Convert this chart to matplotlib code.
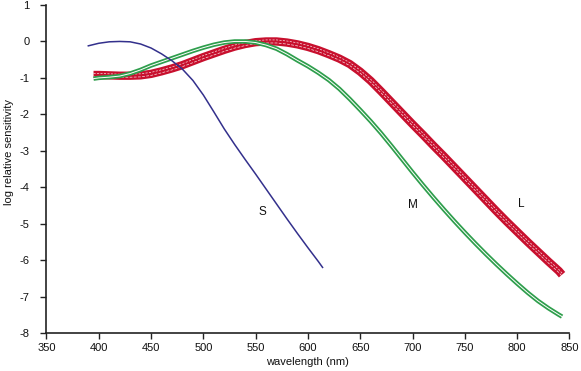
import matplotlib
matplotlib.use("Agg")
import matplotlib.pyplot as plt
from matplotlib.transforms import offset_copy

plt.rcParams['font.family'] = ['Liberation Sans', 'DejaVu Sans']

# S cone
s_wl = [390, 400, 410, 420, 430, 440, 450, 460, 470, 480, 490, 500, 510, 520,
        530, 540, 550, 560, 570, 580, 590, 600, 610, 614]
s_val = [-0.12, -0.05, -0.01, 0.0, -0.01, -0.07, -0.18, -0.34, -0.53, -0.76,
         -1.07, -1.47, -1.93, -2.40, -2.83, -3.24, -3.64, -4.05, -4.46, -4.87,
         -5.27, -5.66, -6.04, -6.20]

# M cone
m_wl = [395, 400, 410, 420, 430, 440, 450, 460, 470, 480, 490, 500, 510, 520,
        530, 540, 550, 560, 570, 580, 590, 600, 610, 620, 630, 640, 650, 660,
        670, 680, 690, 700, 710, 720, 730, 740, 750, 760, 770, 780, 790, 800,
        810, 820, 830, 840, 843]
m_val = [-1.02, -1.00, -0.98, -0.95, -0.88, -0.78, -0.66, -0.56, -0.46, -0.36,
         -0.26, -0.17, -0.09, -0.03, 0.0, 0.0, -0.03, -0.10, -0.20, -0.35,
         -0.52, -0.68, -0.86, -1.06, -1.30, -1.58, -1.88, -2.19, -2.52, -2.87,
         -3.23, -3.59, -3.94, -4.28, -4.61, -4.93, -5.24, -5.54, -5.83, -6.11,
         -6.38, -6.64, -6.89, -7.12, -7.32, -7.50, -7.55]

# L cone
l_wl = [395, 400, 410, 420, 430, 440, 450, 460, 470, 480, 490, 500, 510, 520,
        530, 540, 550, 560, 570, 580, 590, 600, 610, 620, 630, 640, 650, 660,
        670, 680, 690, 700, 710, 720, 730, 740, 750, 760, 770, 780, 790, 800,
        810, 820, 830, 840, 843]
l_val = [-0.92, -0.92, -0.93, -0.94, -0.94, -0.93, -0.89, -0.82, -0.74, -0.65,
         -0.54, -0.43, -0.33, -0.23, -0.14, -0.07, -0.02, 0.0, 0.0, -0.03,
         -0.08, -0.15, -0.24, -0.35, -0.47, -0.62, -0.83, -1.08, -1.37, -1.67,
         -1.97, -2.27, -2.56, -2.86, -3.15, -3.45, -3.75, -4.05, -4.35, -4.65,
         -4.94, -5.22, -5.50, -5.77, -6.04, -6.30, -6.40]

x_ticks = [350, 400, 450, 500, 550, 600, 650, 700, 750, 800, 850]
y_ticks = [1, 0, -1, -2, -3, -4, -5, -6, -7, -8]

labels = ["S", "M", "L"]
label_pos = [(556, -4.68), (700, -4.49), (804, -4.45)]

S_COL = "#33308c"
M_COL = "#2e9e4c"
L_COL = "#c8102e"

fig = plt.figure(figsize=(5.81, 3.71), dpi=100)
ax = fig.add_axes([0.080, 0.1024, 0.900, 0.8841])

ax.plot(l_wl, l_val, color=L_COL, lw=6.0, solid_capstyle='butt', zorder=2)
for dy, dash in [(1.1, (0, (3, 2))), (-1.1, (2, (4, 2)))]:
    tr = offset_copy(ax.transData, fig=fig, x=0, y=dy, units='points')
    ax.plot(l_wl, l_val, color="white", lw=0.5, ls=dash, transform=tr,
            alpha=0.85, zorder=3)
ax.plot(m_wl, m_val, color=M_COL, lw=3.2, solid_capstyle='butt', zorder=4)
ax.plot(m_wl, m_val, color="white", lw=0.7, zorder=5)
ax.plot(s_wl, s_val, color=S_COL, lw=1.1, zorder=6)

for lab, (lx, ly) in zip(labels, label_pos):
    ax.text(lx, ly, lab, fontsize=8.5, ha='center', va='center', color='#111111')

ax.set_xlim(350, 850)
ax.set_ylim(-8, 1)
ax.set_xticks(x_ticks)
ax.set_yticks(y_ticks)
ax.set_xticklabels([str(v) for v in x_ticks])
ax.set_yticklabels([str(v) for v in y_ticks])

for side in ['top', 'right']:
    ax.spines[side].set_visible(False)
for side in ['left', 'bottom']:
    ax.spines[side].set_linewidth(1.2)
    ax.spines[side].set_color('#222222')

ax.tick_params(axis='both', direction='out', length=4, width=1.0,
               colors='#222222', labelsize=8, labelcolor='#111111')
ax.tick_params(axis='y', pad=8)
ax.tick_params(axis='x', pad=3)

ax.set_xlabel("wavelength (nm)", fontsize=8, color='#111111', labelpad=3)
fig.text(0.016, 0.59, "log relative sensitivity", rotation=90, fontsize=8,
         ha='center', va='center', color='#111111')

fig.savefig("out.png", dpi=100, facecolor='white')
